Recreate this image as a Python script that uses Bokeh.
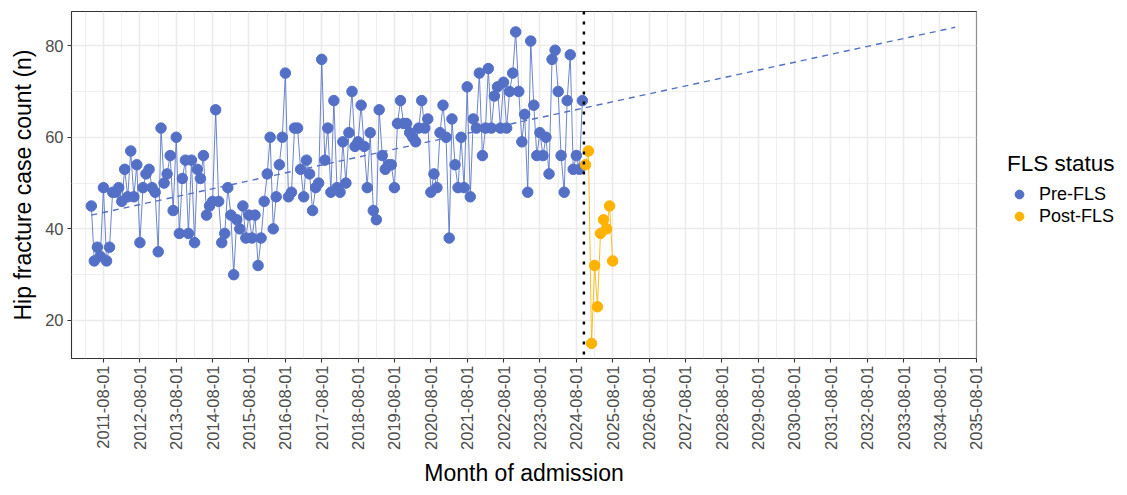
import math
import pandas as pd
from bokeh.plotting import figure
from bokeh.models import (FixedTicker, Span, Legend, LegendItem, ColumnDataSource,
                          DatetimeTickFormatter, Range1d)
from bokeh.embed import file_html
from bokeh.resources import INLINE

# ---------------- data ----------------
pre_start = "2011-04-01"
pre_counts = [
    45, 33, 36, 34, 49, 33, 36, 48, 48, 49,
    46, 53, 47, 57, 47, 54, 37, 49, 52, 53,
    49, 48, 35, 62, 50, 52, 56, 44, 60, 39,
    51, 55, 39, 55, 37, 53, 51, 56, 43, 45,
    46, 66, 46, 37, 39, 49, 43, 30, 42, 40,
    45, 38, 43, 38, 43, 32, 38, 46, 52, 60,
    40, 47, 54, 60, 74, 47, 48, 62, 62, 53,
    47, 55, 52, 44, 49, 50, 77, 55, 62, 48,
    68, 49, 48, 59, 50, 61, 70, 58, 59, 67,
    58, 49, 61, 44, 42, 66, 56, 53, 54, 54,
    49, 63, 68, 63, 63, 61, 60, 59, 62, 68,
    62, 64, 48, 52, 49, 61, 67, 60, 38, 64,
    54, 49, 60, 49, 71, 47, 64, 62, 74, 56,
    62, 75, 62, 69, 71, 62, 72, 62, 70, 74,
    83, 70, 59, 65, 48, 81, 67, 56, 61, 56,
    60, 52, 77, 79, 70, 56, 48, 68, 78, 53,
    56, 53, 68,
]
post_start = "2024-11-01"
post_counts = [54, 57, 15, 32, 23, 39, 42, 40, 45, 33]

trend_dates = ["2011-04-01", "2035-01-01"]
trend_values = [43.0, 84.0]

fls_line_date = "2024-10-16"

series_labels = ["Pre-FLS", "Post-FLS"]
legend_title = "FLS status"
x_title = "Month of admission"
y_title = "Hip fracture case count (n)"

tick_labels = [
    "2011-08-01", "2012-08-01", "2013-08-01", "2014-08-01", "2015-08-01",
    "2016-08-01", "2017-08-01", "2018-08-01", "2019-08-01", "2020-08-01",
    "2021-08-01", "2022-08-01", "2023-08-01", "2024-08-01", "2025-08-01",
    "2026-08-01", "2027-08-01", "2028-08-01", "2029-08-01", "2030-08-01",
    "2031-08-01", "2032-08-01", "2033-08-01", "2034-08-01", "2035-08-01",
]
y_ticks = [20, 40, 60, 80]
y_minor = [30, 50, 70]

x_limits = ["2010-09-14", "2035-08-03"]
y_limits = [11.7, 87.45]

# ---------------- build ----------------
PRE_COLOR = "#5470C6"
POST_COLOR = "#FFB300"
FONT = "Liberation Sans"

pre_src = ColumnDataSource(dict(
    date=pd.date_range(pre_start, periods=len(pre_counts), freq="MS"),
    n=pre_counts))
post_src = ColumnDataSource(dict(
    date=pd.date_range(post_start, periods=len(post_counts), freq="MS"),
    n=post_counts))
trend_src = ColumnDataSource(dict(date=pd.to_datetime(trend_dates), n=trend_values))


def ms(s):
    return pd.Timestamp(s).value / 1e6


major = [ms(t) for t in tick_labels]
step = major[1] - major[0]
minor = [major[0] - step / 2] + [(a + b) / 2 for a, b in zip(major[:-1], major[1:])]

p = figure(
    x_axis_type="datetime",
    x_range=Range1d(pd.Timestamp(x_limits[0]), pd.Timestamp(x_limits[1])),
    y_range=Range1d(*y_limits),
    frame_width=905, frame_height=347,
    min_border_left=71, min_border_right=136, min_border_top=11, min_border_bottom=121,
    output_backend="svg", toolbar_location=None,
    background_fill_color="white", border_fill_color="white",
)

# trend
p.line("date", "n", source=trend_src, color=PRE_COLOR, line_width=1.4, line_dash="6 5")

# series
p.line("date", "n", source=pre_src, color=PRE_COLOR, line_width=1.0, line_alpha=0.85)
pre_pts = p.scatter("date", "n", source=pre_src, size=10.5, color=PRE_COLOR)
p.line("date", "n", source=post_src, color=POST_COLOR, line_width=1.0, line_alpha=0.85)
post_pts = p.scatter("date", "n", source=post_src, size=10.5, color=POST_COLOR)

# FLS start line
p.add_layout(Span(location=ms(fls_line_date), dimension="height",
                  line_color="black", line_width=2.5, line_dash="3 7"))

# axes
p.xaxis.ticker = FixedTicker(ticks=major, minor_ticks=minor)
fmt = "%Y-%m-%d"
p.xaxis.formatter = DatetimeTickFormatter(
    microseconds=fmt, milliseconds=fmt, seconds=fmt, minsec=fmt, minutes=fmt,
    hourmin=fmt, hours=fmt, days=fmt, months=fmt, years=fmt)
p.xaxis.major_label_orientation = math.pi / 2
p.yaxis.ticker = FixedTicker(ticks=y_ticks, minor_ticks=y_minor)

for ax in (p.xaxis[0], p.yaxis[0]):
    ax.axis_line_color = None
    ax.major_tick_line_color = "#333333"
    ax.major_tick_line_width = 1.1
    ax.major_tick_out = 4
    ax.major_tick_in = 0
    ax.minor_tick_line_color = None
    ax.major_label_text_color = "#4D4D4D"
    ax.major_label_text_font = FONT
    ax.major_label_text_font_size = "16.5px"
    ax.axis_label_text_font = FONT
    ax.axis_label_text_font_size = "23px"
    ax.axis_label_text_font_style = "normal"
    ax.axis_label_text_color = "black"

p.xaxis.major_label_standoff = 3
p.yaxis.major_label_standoff = 4
p.xaxis.axis_label = x_title
p.yaxis.axis_label = y_title
p.xaxis.axis_label_standoff = 7
p.yaxis.axis_label_standoff = 6

for g in (p.xgrid[0], p.ygrid[0]):
    g.grid_line_color = "#EBEBEB"
    g.grid_line_width = 1.6
    g.minor_grid_line_color = "#EBEBEB"
    g.minor_grid_line_width = 0.8

p.outline_line_color = "#333333"
p.outline_line_width = 1.1

legend = Legend(
    items=[LegendItem(label=series_labels[0], renderers=[pre_pts]),
           LegendItem(label=series_labels[1], renderers=[post_pts])],
    title=legend_title, location=(31, 131),
    title_text_font=FONT, title_text_font_size="22.5px", title_text_font_style="normal",
    title_text_color="black", title_standoff=6,
    label_text_font=FONT, label_text_font_size="18px", label_text_color="black",
    label_standoff=8, glyph_width=24, glyph_height=22, label_height=18,
    spacing=-3, padding=0, margin=17,
    background_fill_alpha=0, border_line_color=None,
)
p.add_layout(legend, "right")

open("out.html", "w").write(file_html(p, INLINE))
